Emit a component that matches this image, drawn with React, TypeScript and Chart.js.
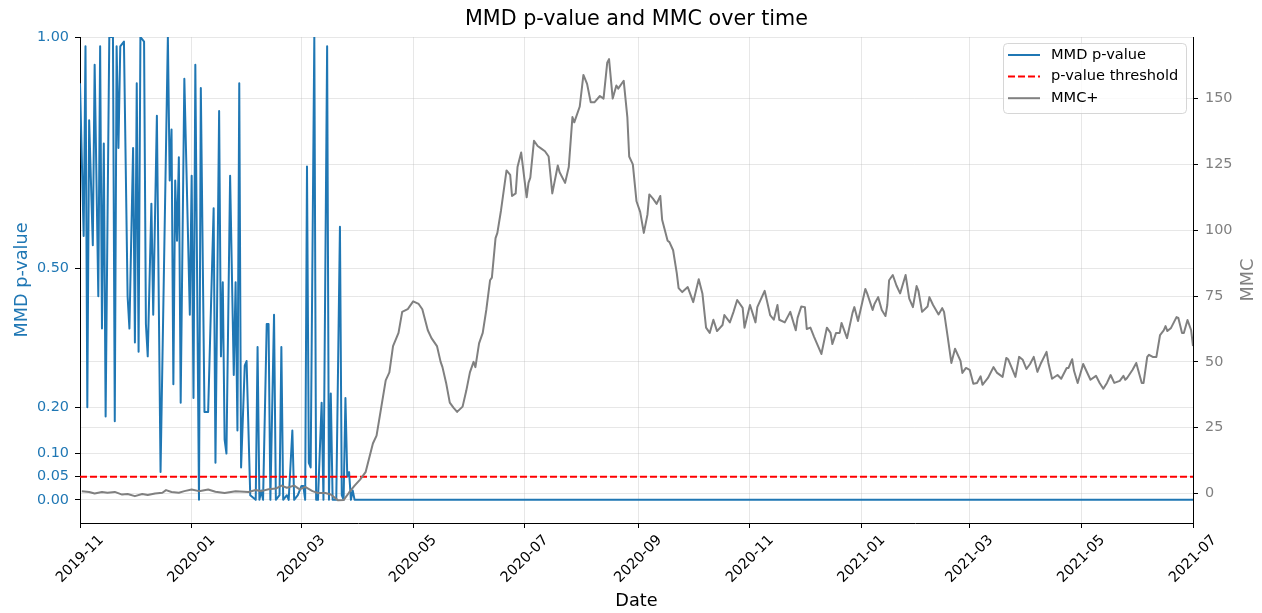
import React, { useEffect, useRef } from 'react';
import { Chart, registerables } from 'chart.js';

Chart.register(...registerables);

const FONT = 'DejaVu Sans';
const BLUE = '#1f77b4';
const GRAY = '#808080';
const RED = '#ff0000';

// Dates are stored as day offsets from 2019-11-01
const START_DATE = Date.UTC(2019, 10, 1);
const xTickLabels = ['2019-11', '2020-01', '2020-03', '2020-05', '2020-07', '2020-09', '2020-11', '2021-01', '2021-03', '2021-05', '2021-07'];
const xTickDays = xTickLabels.map((s) => {
  const [y, m] = s.split('-').map(Number);
  return Math.round((Date.UTC(y, m - 1, 1) - START_DATE) / 86400000);
});
const X_MAX = xTickDays[xTickDays.length - 1];

const pTickValues = [0, 0.05, 0.1, 0.2, 0.5, 1.0];
const mmcTickValues = [0, 25, 50, 75, 100, 125, 150];
const threshold = 0.05;

// MMD p-value (day offset, value)
const pDays = [0, 2, 3, 4, 5, 7, 8, 10, 11, 12, 13, 14, 16, 18, 19, 20, 21, 22, 24, 26, 27, 29, 30, 31, 32, 33, 35, 36, 37, 39, 40, 42, 44, 48, 49, 50, 51, 52, 53, 54, 55, 57, 60, 61, 62, 63, 65, 66, 68, 70, 73, 74, 76, 77, 78, 79, 80, 82, 84, 85, 86, 87, 88, 90, 91, 93, 96, 97, 98, 99, 100, 102, 103, 104, 106, 107, 109, 110, 111, 113, 114, 116, 117, 119, 121, 122, 123, 124, 125, 126, 128, 129, 130, 132, 133, 135, 136, 137, 138, 140, 142, 143, 144, 145, 146, 147, 148, 149, 150, 608];
const pValues = [0.90, 0.57, 0.98, 0.20, 0.82, 0.55, 0.94, 0.44, 0.98, 0.37, 0.77, 0.18, 1.0, 1.0, 0.17, 0.98, 0.76, 0.98, 0.99, 0.44, 0.37, 0.76, 0.34, 0.90, 0.32, 1.0, 0.99, 0.38, 0.31, 0.64, 0.40, 0.83, 0.06, 1.0, 0.69, 0.80, 0.25, 0.69, 0.56, 0.74, 0.21, 0.91, 0.40, 0.70, 0.22, 0.94, 0.0, 0.89, 0.19, 0.19, 0.63, 0.08, 0.84, 0.31, 0.47, 0.13, 0.10, 0.70, 0.27, 0.47, 0.15, 0.90, 0.07, 0.29, 0.30, 0.01, 0.0, 0.33, 0.0, 0.02, 0.0, 0.38, 0.38, 0.0, 0.40, 0.0, 0.01, 0.33, 0.0, 0.01, 0.0, 0.15, 0.0, 0.01, 0.03, 0.03, 0.0, 0.72, 0.08, 0.07, 1.0, 0.0, 0.0, 0.21, 0.0, 0.98, 0.0, 0.23, 0.0, 0.0, 0.59, 0.01, 0.0, 0.22, 0.05, 0.06, 0.0, 0.02, 0.0, 0.0];

// MMC+ (day offset, value)
const mmcDays = [1, 5, 8, 12, 15, 19, 23, 26, 30, 34, 37, 41, 45, 47, 50, 54, 57, 61, 65, 70, 74, 79, 85, 92, 96, 99, 103, 107, 110, 113, 117, 120, 123, 127, 130, 134, 137, 141, 144, 147, 150, 153, 156, 160, 162, 167, 169, 171, 174, 176, 179, 180, 182, 185, 187, 190, 192, 195, 197, 198, 200, 202, 204, 206, 209, 211, 213, 215, 216, 218, 220, 222, 224, 225, 227, 228, 230, 233, 235, 236, 238, 239, 241, 244, 245, 246, 248, 250, 252, 254, 256, 258, 261, 262, 265, 267, 269, 270, 273, 275, 277, 279, 281, 284, 286, 288, 289, 291, 293, 294, 297, 299, 300, 302, 304, 306, 308, 310, 311, 313, 315, 317, 318, 321, 322, 324, 326, 327, 329, 332, 335, 338, 340, 342, 344, 346, 348, 351, 352, 355, 357, 359, 362, 363, 366, 369, 370, 374, 375, 377, 379, 381, 382, 385, 388, 391, 392, 394, 396, 397, 399, 401, 405, 408, 410, 411, 413, 415, 416, 419, 422, 423, 425, 429, 430, 433, 434, 436, 438, 440, 441, 442, 444, 446, 448, 451, 453, 455, 457, 458, 460, 463, 464, 466, 469, 471, 472, 474, 476, 478, 481, 482, 484, 486, 488, 490, 492, 493, 496, 499, 501, 504, 506, 507, 509, 511, 513, 515, 517, 519, 521, 523, 525, 528, 529, 531, 534, 536, 539, 540, 542, 543, 545, 548, 552, 555, 557, 559, 561, 563, 565, 568, 570, 571, 572, 575, 577, 580, 581, 583, 584, 586, 588, 590, 592, 593, 594, 596, 599, 600, 602, 603, 605, 607, 608];
const mmcValues = [0.9, 0.6, 0.0, 0.6, 0.3, 0.6, -0.4, -0.2, -1.0, -0.2, -0.6, 0.0, 0.3, 1.3, 0.6, 0.3, 0.9, 1.5, 0.9, 1.5, 0.7, 0.2, 0.9, 0.6, 1.3, 0.9, 1.6, 1.9, 3.0, 2.2, 3.0, 1.6, 2.5, 0.9, 0.2, 0.2, -0.4, -2.6, -2.5, 0.4, 3.0, 5.3, 8.1, 19, 22, 43, 46, 56, 61, 69, 70, 71, 73, 72, 70, 62, 59, 56, 50, 48, 42, 34.5, 32.6, 31, 33, 39, 46, 50, 48, 57, 61, 70, 81, 82, 97, 99, 107.6, 122.7, 121, 113, 114, 124, 129.5, 112.5, 118, 120, 134, 132, 131, 130, 128, 114, 124.6, 122, 118, 124, 143, 141, 147, 159, 155.6, 148.6, 148.6, 151, 150, 163.6, 165, 150, 155, 153.8, 156.8, 143, 128, 125, 111, 107, 99, 106, 113.6, 112, 110, 113, 104, 96, 95.5, 92.4, 83.7, 78, 76.5, 78.4, 72.7, 81.4, 76, 63, 61, 66, 61.7, 64, 67.8, 65, 69, 73.5, 70.5, 63, 71.6, 65, 70.8, 77, 74, 67.8, 66, 71.6, 66, 65, 69, 62, 66.7, 71, 70.8, 62.5, 63, 59.5, 53, 63, 61, 56.8, 61, 61, 64.8, 59, 68.6, 70.8, 65.5, 77.7, 76, 69.7, 72, 74.6, 69.7, 67.4, 71.6, 81, 83, 79, 76, 83, 74, 70.8, 78.8, 77, 69, 71, 74.6, 71.6, 68, 70.4, 69, 59.5, 49.6, 55, 50.4, 45.8, 47.7, 47, 41.7, 42, 44.5, 41.3, 43.9, 48, 45.8, 44.3, 51.5, 51, 47.7, 44.3, 51.9, 50.8, 47.3, 49.2, 51.9, 46.2, 49.6, 53.8, 49.6, 43.6, 45, 43.6, 47.7, 47.7, 51, 46.6, 42, 49.2, 43.2, 44.7, 42, 39.8, 42, 45, 42, 42.8, 44.7, 43.2, 43.9, 47, 49.6, 42, 42, 51.9, 52.7, 51.9, 51.9, 60.2, 62, 63.6, 61.7, 62.9, 67, 66.7, 61, 61, 65.9, 62, 56];

const legendItems = [
  { label: 'MMD p-value', color: BLUE, dash: [] as number[] },
  { label: 'p-value threshold', color: RED, dash: [7, 3] },
  { label: 'MMC+', color: GRAY, dash: [] as number[] },
];

const GRID = 'rgba(176,176,176,0.3)';
const TICK_SIZE = 14.4;
const TICK_FONT = { family: FONT, size: TICK_SIZE };
const LABEL_SIZE = 17.7;

const overlayPlugin = {
  id: 'overlay',
  afterDatasetsDraw(chart: any) {
    const ctx = chart.ctx;
    const ca = chart.chartArea;
    ctx.save();
    const bx = ca.right - 190;
    const by = ca.top + 6;
    const bw = 183;
    const bh = 70;
    ctx.beginPath();
    if ((ctx as any).roundRect) (ctx as any).roundRect(bx + 0.5, by + 0.5, bw, bh, 4);
    else ctx.rect(bx + 0.5, by + 0.5, bw, bh);
    ctx.fillStyle = 'rgba(255,255,255,0.8)';
    ctx.fill();
    ctx.strokeStyle = 'rgba(204,204,204,0.8)';
    ctx.lineWidth = 1;
    ctx.stroke();
    ctx.font = `14.6px "${FONT}"`;
    ctx.textBaseline = 'middle';
    ctx.textAlign = 'left';
    legendItems.forEach((it, i) => {
      const y = by + 12 + i * 21.6;
      ctx.beginPath();
      ctx.setLineDash(it.dash);
      ctx.strokeStyle = it.color;
      ctx.lineWidth = 2;
      ctx.moveTo(bx + 5, y);
      ctx.lineTo(bx + 37, y);
      ctx.stroke();
      ctx.setLineDash([]);
      ctx.fillStyle = '#000';
      ctx.fillText(it.label, bx + 48, y);
    });
    ctx.restore();
  },
  afterDraw(chart: any) {
    const ctx = chart.ctx;
    const ca = chart.chartArea;
    const cx = (ca.left + ca.right) / 2;
    const cy = (ca.top + ca.bottom) / 2;
    const xScale = chart.scales.x;
    ctx.save();
    ctx.textAlign = 'center';
    ctx.textBaseline = 'middle';
    ctx.fillStyle = '#000';

    // x tick labels, rotated 45°, centred under each tick
    ctx.font = `${TICK_SIZE}px "${FONT}"`;
    xTickDays.forEach((d, i) => {
      const label = xTickLabels[i];
      const px = xScale.getPixelForValue(d);
      const L = ctx.measureText(label).width;
      const h = TICK_SIZE * 1.16;
      const half = ((L + h) * Math.SQRT1_2) / 2;
      ctx.save();
      ctx.translate(px, ca.bottom + 9 + half);
      ctx.rotate(-Math.PI / 4);
      ctx.fillText(label, 0, 0);
      ctx.restore();
    });

    ctx.font = `20.7px "${FONT}"`;
    ctx.fillText('MMD p-value and MMC over time', cx, 20);
    ctx.font = `${LABEL_SIZE}px "${FONT}"`;
    ctx.fillText('Date', cx, 601);
    ctx.save();
    ctx.translate(22, cy);
    ctx.rotate(-Math.PI / 2);
    ctx.fillStyle = BLUE;
    ctx.fillText('MMD p-value', 0, 0);
    ctx.restore();
    ctx.save();
    ctx.translate(1248, cy);
    ctx.rotate(-Math.PI / 2);
    ctx.fillStyle = GRAY;
    ctx.fillText('MMC', 0, 0);
    ctx.restore();
    ctx.restore();
  },
};

export default function App() {
  const canvasRef = useRef<HTMLCanvasElement | null>(null);

  useEffect(() => {
    const canvas = canvasRef.current;
    if (!canvas) return;
    const pData = pDays.map((d, i) => ({ x: d, y: pValues[i] }));
    const mData = mmcDays.map((d, i) => ({ x: d, y: mmcValues[i] }));
    const tData = [{ x: 0, y: threshold }, { x: X_MAX, y: threshold }];

    const chart = new Chart(canvas, {
      type: 'line',
      data: {
        datasets: [
          {
            label: 'MMD p-value',
            data: pData,
            yAxisID: 'yP',
            borderColor: BLUE,
            backgroundColor: BLUE,
            borderWidth: 2,
            borderJoinStyle: 'round',
            pointRadius: 0,
            tension: 0,
            order: 3,
          },
          {
            label: 'p-value threshold',
            data: tData,
            yAxisID: 'yP',
            borderColor: RED,
            backgroundColor: RED,
            borderWidth: 2,
            borderDash: [7, 3],
            pointRadius: 0,
            order: 2,
          },
          {
            label: 'MMC+',
            data: mData,
            yAxisID: 'yM',
            borderColor: GRAY,
            backgroundColor: GRAY,
            borderWidth: 2,
            borderJoinStyle: 'round',
            pointRadius: 0,
            tension: 0,
            order: 1,
          },
        ],
      },
      options: {
        responsive: false,
        animation: false,
        devicePixelRatio: 1,
        layout: { padding: { top: 37, left: 0, right: 0, bottom: 0 } },
        plugins: {
          legend: { display: false },
          title: { display: false },
          tooltip: { enabled: false },
        },
        scales: {
          x: {
            type: 'linear',
            position: 'bottom',
            min: 0,
            max: X_MAX,
            afterBuildTicks: (scale: any) => {
              scale.ticks = xTickDays.map((v) => ({ value: v }));
            },
            afterFit: (scale: any) => {
              scale.height = 90;
            },
            ticks: {
              autoSkip: false,
              maxRotation: 0,
              minRotation: 0,
              color: 'rgba(0,0,0,0)',
              font: TICK_FONT,
              callback: () => '',
            },
            grid: { color: GRID, lineWidth: 1, tickColor: '#000', tickLength: 5, drawTicks: true },
            border: { display: true, color: '#000', width: 1 },
          },
          yP: {
            type: 'linear',
            position: 'left',
            min: -0.05,
            max: 1.0,
            afterBuildTicks: (scale: any) => {
              scale.ticks = pTickValues.map((v) => ({ value: v }));
            },
            afterFit: (scale: any) => {
              scale.width = 80;
            },
            ticks: {
              color: BLUE,
              font: TICK_FONT,
              padding: 6,
              callback: (v: any) => Number(v).toFixed(2),
            },
            grid: { color: GRID, lineWidth: 1, tickColor: '#000', tickLength: 5 },
            border: { display: true, color: '#000', width: 1 },
          },
          yM: {
            type: 'linear',
            position: 'right',
            min: -11.2,
            max: 173.4,
            afterBuildTicks: (scale: any) => {
              scale.ticks = mmcTickValues.map((v) => ({ value: v }));
            },
            afterFit: (scale: any) => {
              scale.width = 69;
            },
            ticks: {
              color: GRAY,
              font: TICK_FONT,
              padding: 7,
              callback: (v: any) => String(v),
            },
            grid: { color: GRID, lineWidth: 1, tickColor: '#000', tickLength: 5 },
            border: { display: true, color: '#000', width: 1 },
          },
        },
      },
      plugins: [overlayPlugin],
    } as any);

    return () => {
      chart.destroy();
    };
  }, []);

  return (
    <div style={{ position: 'absolute', left: 0, top: 0, width: 1262, height: 613, background: '#fff' }}>
      <canvas ref={canvasRef} width={1262} height={613} style={{ display: 'block' }} />
    </div>
  );
}
